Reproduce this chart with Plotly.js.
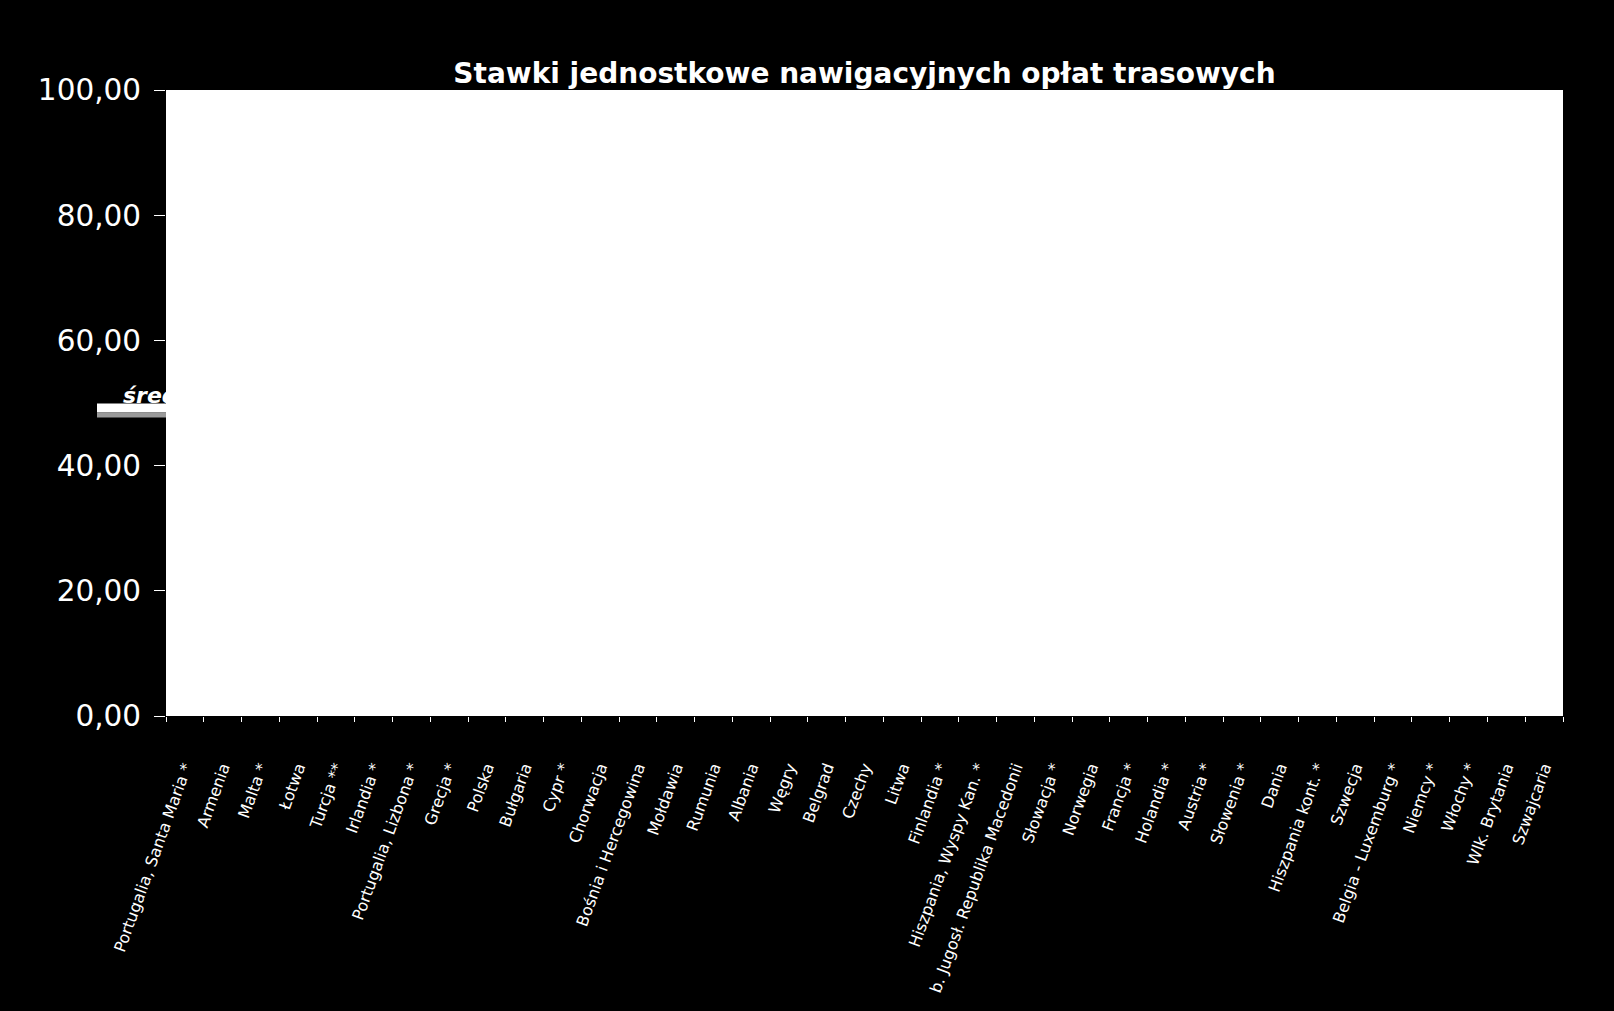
<!DOCTYPE html>
<html>
<head>
<meta charset="utf-8">
<script src="https://cdn.plot.ly/plotly-3.0.1.min.js"></script>
<style>
  html, body { margin: 0; padding: 0; background: #000; }
  #canvas { width: 1614px; height: 1011px; }
</style>
</head>
<body>
<div id="canvas"></div>
<script>
// kategorie (kolejność jak na wykresie)
var kraje = [
  "Portugalia, Santa Maria *", "Armenia", "Malta *", "Łotwa", "Turcja **",
  "Irlandia *", "Portugalia, Lizbona *", "Grecja *", "Polska", "Bułgaria",
  "Cypr *", "Chorwacja", "Bośnia i Hercegowina", "Mołdawia", "Rumunia",
  "Albania", "Węgry", "Belgrad", "Czechy", "Litwa",
  "Finlandia *", "Hiszpania, Wyspy Kan. *", "b. Jugosł. Republika Macedonii", "Słowacja *", "Norwegia",
  "Francja *", "Holandia *", "Austria *", "Słowenia *", "Dania",
  "Hiszpania kont. *", "Szwecja", "Belgia - Luxemburg *", "Niemcy *", "Włochy *",
  "Wlk. Brytania", "Szwajcaria"
];
// słupki nie są widoczne na obrazie (biały na białym) - brak odczytu
var stawki = [
  null, null, null, null, null, null, null, null, null, null,
  null, null, null, null, null, null, null, null, null, null,
  null, null, null, null, null, null, null, null, null, null,
  null, null, null, null, null, null, null
];
var yTicks = [0, 20, 40, 60, 80, 100];
var yTickText = ["0,00", "20,00", "40,00", "60,00", "80,00", "100,00"];
var sredniaValue = 49.2;
var sredniaLabel = "średnia";

var W = 1614, H = 1011;
var plotL = 166, plotR = 1563, plotT = 90, plotB = 716;

var trace1 = {
  x: kraje,
  y: stawki,
  type: 'bar',
  marker: { color: '#ffffff' },
  hoverinfo: 'skip'
};
// etykieta średniej - przycinana na krawędzi obszaru wykresu
var trace2 = {
  x: [123],
  y: [sredniaValue],
  xaxis: 'x2',
  yaxis: 'y2',
  type: 'scatter',
  mode: 'text',
  text: [sredniaLabel],
  textposition: 'top right',
  cliponaxis: true,
  textfont: { family: 'DejaVu Sans', size: 22, color: '#ffffff', weight: 'bold', style: 'italic' },
  hoverinfo: 'skip'
};
var data = [trace1, trace2];

var layout = {
  width: W,
  height: H,
  margin: { l: 0, r: 0, t: 0, b: 0 },
  paper_bgcolor: '#000000',
  plot_bgcolor: '#000000',
  showlegend: false,
  title: {
    text: '<b>Stawki jednostkowe nawigacyjnych opłat trasowych</b>',
    x: (plotL + plotR) / 2 / W,
    xanchor: 'center',
    y: 1 - 73 / H,
    yanchor: 'middle',
    font: { family: 'DejaVu Sans', size: 28, color: '#ffffff' }
  },
  xaxis: {
    domain: [plotL / W, plotR / W],
    type: 'category',
    categoryorder: 'array',
    categoryarray: kraje,
    range: [-0.5, kraje.length - 0.5],
    tickson: 'boundaries',
    ticks: 'outside',
    ticklen: 5,
    tickwidth: 1,
    tickcolor: '#ffffff',
    tickangle: -70,
    ticklabelstandoff: 38,
    tickfont: { family: 'DejaVu Sans', size: 16, color: '#ffffff' },
    showgrid: false,
    zeroline: false,
    showline: false,
    fixedrange: true
  },
  yaxis: {
    domain: [(H - plotB) / H, (H - plotT) / H],
    range: [0, 100],
    tickvals: yTicks,
    ticktext: yTickText,
    ticks: 'outside',
    ticklen: 11,
    tickwidth: 1,
    tickcolor: '#ffffff',
    ticklabelstandoff: 7,
    tickfont: { family: 'DejaVu Sans', size: 29.5, color: '#ffffff' },
    showgrid: false,
    zeroline: false,
    showline: false,
    fixedrange: true
  },
  xaxis2: {
    domain: [0, plotL / W],
    anchor: 'y2',
    range: [0, plotL],
    visible: false,
    fixedrange: true
  },
  yaxis2: {
    domain: [(H - plotB) / H, (H - plotT) / H],
    anchor: 'x2',
    range: [0, 100],
    visible: false,
    fixedrange: true
  },
  shapes: [
    // biały obszar wykresu
    {
      type: 'rect', xref: 'x domain', yref: 'y domain',
      x0: 0, x1: 1, y0: 0, y1: 1,
      fillcolor: '#ffffff', line: { width: 0 }, layer: 'below'
    },
    // linia średniej (widoczna tylko na lewo od obszaru wykresu)
    {
      type: 'line', xref: 'paper', yref: 'y',
      x0: 97 / W, x1: plotL / W, y0: sredniaValue, y1: sredniaValue,
      line: { color: '#ffffff', width: 9 }
    },
    {
      type: 'rect', xref: 'paper', yref: 'y',
      ysizemode: 'pixel', yanchor: sredniaValue,
      x0: 97 / W, x1: plotL / W, y0: -4.5, y1: -9.5,
      fillcolor: '#9a9a9a', line: { width: 0 }
    }
  ]
};

Plotly.newPlot('canvas', data, layout, { displayModeBar: false, staticPlot: true });
</script>
</body>
</html>
